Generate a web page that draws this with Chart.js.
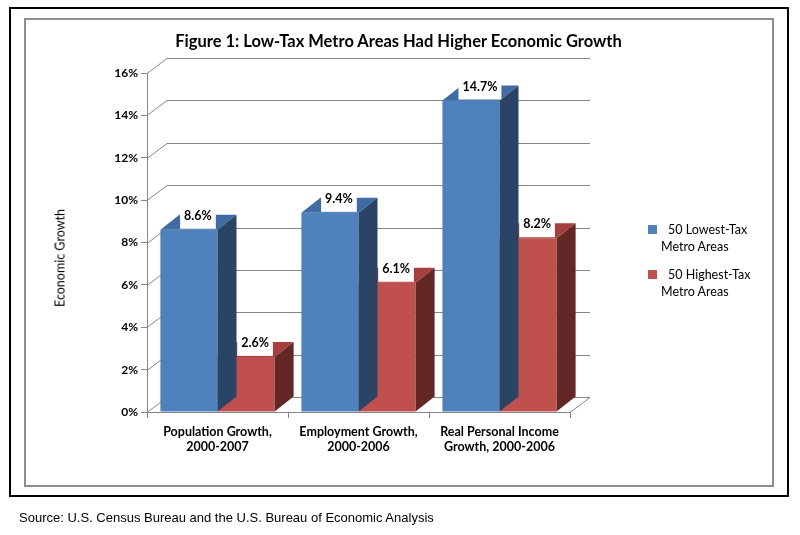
<!DOCTYPE html>
<html lang="en">
<head>
  <meta charset="UTF-8">
  <title>Figure 1: Low-Tax Metro Areas Had Higher Economic Growth</title>
  <script src="https://cdn.jsdelivr.net/npm/chart.js@4"></script>
  <style>
    body { margin: 0; width: 800px; height: 535px; background: #fff; position: relative; overflow: hidden; }
    #outer { position: absolute; left: 9px; top: 7px; width: 776px; height: 486px; border: 2px solid #000; }
    #inner { position: absolute; left: 24px; top: 18px; width: 746px; height: 465px; border: 2px solid #8c8c8c; }
    #chart { position: absolute; left: 0; top: 0; }
    .txt { position: absolute; font-family: Lato, "Noto Sans", sans-serif; color: #000; white-space: nowrap; }
    #title { left: 0; width: 797px; top: 31px; text-align: center; font-size: 16.5px; font-weight: bold; }
    #ytitle { left: 60px; top: 258px; font-size: 12.5px; transform: translate(-50%, -50%) rotate(-90deg); }
    .legend { left: 648px; font-size: 12.5px; line-height: 17px; }
    .legend i { display: inline-block; width: 9px; height: 9px; margin-right: 11px; vertical-align: 0px; }
    .legend span { display: block; padding-left: 13px; }
    #source { left: 19px; top: 510px; font-family: "Liberation Sans", Arial, sans-serif; font-size: 13px; }
  </style>
</head>
<body>
  <div id="outer"></div>
  <div id="inner"></div>
  <canvas id="chart" width="800" height="535"></canvas>
  <div class="txt" id="title">Figure 1: Low-Tax Metro Areas Had Higher Economic Growth</div>
  <div class="txt" id="ytitle">Economic Growth</div>
  <div class="txt legend" style="top:221px"><i style="background:#4f81bd"></i>50 Lowest-Tax<span>Metro Areas</span></div>
  <div class="txt legend" style="top:266px"><i style="background:#c0504d"></i>50 Highest-Tax<span>Metro Areas</span></div>
  <div class="txt" id="source">Source: U.S. Census Bureau and the U.S. Bureau of Economic Analysis</div>

  <script>
    // chart data
    const categories = [
      ["Population Growth,", "2000-2007"],
      ["Employment Growth,", "2000-2006"],
      ["Real Personal Income", "Growth, 2000-2006"]
    ];
    const lowTax = [8.6, 9.4, 14.7];
    const highTax = [2.6, 6.1, 8.2];
    const seriesNames = ["50 Lowest-Tax Metro Areas", "50 Highest-Tax Metro Areas"];
    const yTicks = { min: 0, max: 16, step: 2 };

    // 3d look
    const BAR_DX = 19, BAR_DY = -15;
    const WALL_DX = 20, WALL_DY = -15;
    const axisGray = "#868686";
    const faceColors = [
      { front: "#4f81bd", top: "#3f6ca5", side: "#2a4465" },
      { front: "#c0504d", top: "#a6403d", side: "#632826" }
    ];

    const walls = {
      id: "walls",
      beforeDatasetsDraw(chart) {
        const { ctx, chartArea: a, scales: { y } } = chart;
        ctx.save();
        ctx.strokeStyle = axisGray;
        ctx.lineWidth = 1;
        y.ticks.forEach(t => {
          const py = Math.round(y.getPixelForValue(t.value)) + 0.5;
          ctx.beginPath();
          ctx.moveTo(a.left, py);
          ctx.lineTo(a.left + WALL_DX, py + WALL_DY);
          ctx.lineTo(a.right + WALL_DX, py + WALL_DY);
          ctx.stroke();
        });
        // floor right edge
        const by = Math.round(y.getPixelForValue(0)) + 0.5;
        ctx.beginPath();
        ctx.moveTo(a.right, by);
        ctx.lineTo(a.right + WALL_DX, by + WALL_DY);
        ctx.stroke();
        ctx.restore();
      }
    };

    const bars3d = {
      id: "bars3d",
      afterDatasetDraw(chart, args) {
        const { ctx } = chart;
        const c = faceColors[args.index];
        ctx.save();
        args.meta.data.forEach(bar => {
          const l = bar.x - bar.width / 2, r = bar.x + bar.width / 2;
          const t = bar.y, b = bar.base;
          // top face
          ctx.fillStyle = c.top;
          ctx.beginPath();
          ctx.moveTo(l, t);
          ctx.lineTo(l + BAR_DX, t + BAR_DY);
          ctx.lineTo(r + BAR_DX, t + BAR_DY);
          ctx.lineTo(r, t);
          ctx.closePath();
          ctx.fill();
          // side face
          ctx.fillStyle = c.side;
          ctx.beginPath();
          ctx.moveTo(r, t);
          ctx.lineTo(r + BAR_DX, t + BAR_DY);
          ctx.lineTo(r + BAR_DX, b + BAR_DY);
          ctx.lineTo(r, b);
          ctx.closePath();
          ctx.fill();
        });
        ctx.restore();
      },
      afterDatasetsDraw(chart) {
        const { ctx } = chart;
        ctx.save();
        ctx.font = "bold 12.5px Lato, 'Noto Sans', sans-serif";
        ctx.textAlign = "center";
        ctx.textBaseline = "middle";
        chart.data.datasets.forEach((ds, i) => {
          chart.getDatasetMeta(i).data.forEach((bar, j) => {
            const txt = ds.data[j].toFixed(1) + "%";
            const cx = bar.x + 9, cy = bar.y - 14;
            const w = ctx.measureText(txt).width + 8;
            ctx.fillStyle = "#fff";
            ctx.fillRect(cx - w / 2, bar.y - 23, w, 22);
            ctx.fillStyle = "#000";
            ctx.fillText(txt, cx, cy);
          });
        });
        ctx.restore();
      }
    };

    const tickFont = { family: "Lato, 'Noto Sans', sans-serif", size: 12, weight: "bold" };

    new Chart(document.getElementById("chart"), {
      type: "bar",
      data: {
        labels: categories,
        datasets: [
          { label: seriesNames[0], data: lowTax, backgroundColor: faceColors[0].front },
          { label: seriesNames[1], data: highTax, backgroundColor: faceColors[1].front }
        ]
      },
      options: {
        responsive: false,
        animation: false,
        events: [],
        layout: { padding: { left: 0, top: 73, right: 230, bottom: 0 } },
        plugins: { legend: { display: false }, tooltip: { enabled: false } },
        datasets: { bar: { categoryPercentage: 0.81, barPercentage: 1 } },
        scales: {
          x: {
            grid: { drawOnChartArea: false, tickLength: 6, color: axisGray, offset: true },
            border: { color: axisGray },
            ticks: { color: "#000", font: { ...tickFont, size: 12.5 }, padding: 6, maxRotation: 0 },
            afterFit: s => { s.height = 123; }
          },
          y: {
            min: yTicks.min,
            max: yTicks.max,
            grid: { drawOnChartArea: false, tickLength: 6, color: axisGray },
            border: { color: axisGray },
            ticks: { stepSize: yTicks.step, color: "#000", font: tickFont, padding: 3, callback: v => v + "%" },
            afterFit: s => { s.width = 147; }
          }
        }
      },
      plugins: [walls, bars3d]
    });
  </script>
</body>
</html>
